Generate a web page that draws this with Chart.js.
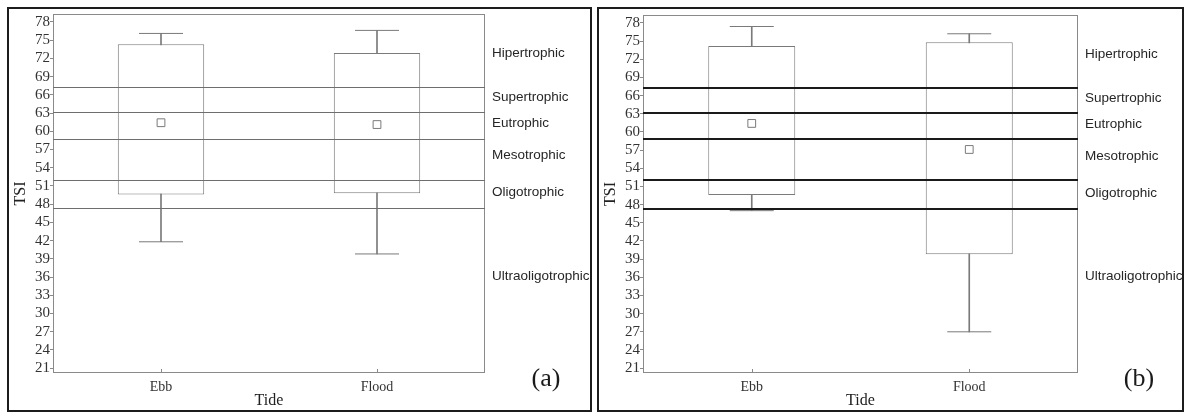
<!DOCTYPE html>
<html>
<head>
<meta charset="utf-8">
<script src="https://cdn.jsdelivr.net/npm/chart.js@4.4.1/dist/chart.umd.min.js"></script>
<style>
  body { margin: 0; background: #fff; }
  .panel { position: absolute; top: 7px; border: 2px solid #1c1c1c; background: #fff; }
  #panelA { left: 7px; width: 581px; height: 401px; }
  #panelB { left: 597px; width: 583px; height: 401px; }
  canvas { display: block; }
</style>
</head>
<body>
<div class="panel" id="panelA"><canvas id="chartA" width="581" height="401"></canvas></div>
<div class="panel" id="panelB"><canvas id="chartB" width="583" height="401"></canvas></div>
<script>
// boxplots du TSI par marée, (a) et (b)

const categories = ["Ebb", "Flood"];
const yTicks = [21, 24, 27, 30, 33, 36, 39, 42, 45, 48, 51, 54, 57, 60, 63, 66, 69, 72, 75, 78];

// panel (a)
const boxLowA = [49.6, 49.8];
const boxHighA = [74.3, 72.9];
const whiskerLowA = [41.8, 39.8];
const whiskerHighA = [76.1, 76.6];
const meanA = [61.4, 61.1];

// panel (b)
const boxLowB = [49.6, 39.8];
const boxHighB = [74.2, 74.8];
const whiskerLowB = [47.0, 27.0];
const whiskerHighB = [77.4, 76.2];
const meanB = [61.4, 57.1];

// classes trophiques
const trophicBounds = [47.3, 52.0, 58.8, 63.2, 67.3];
const trophicClasses = ["Hipertrophic", "Supertrophic", "Eutrophic", "Mesotrophic", "Oligotrophic", "Ultraoligotrophic"];
const trophicLabelAt = [72.8, 65.6, 61.3, 56.0, 49.9, 36.1];

const boxColor = "#7a7a7a";

const decorPlugin = {
  id: "decor",
  afterDatasetsDraw(chart, args, opts) {
    const { ctx, chartArea: a, scales } = chart;
    const y = scales.y, x = scales.x;
    ctx.save();
    // cadre du graphe
    ctx.strokeStyle = "#8a8a8a";
    ctx.lineWidth = 1;
    ctx.strokeRect(a.left + 0.5, a.top + 0.5, a.right - a.left - 1, a.bottom - a.top - 1);
    // petits ticks de l'axe x, vers l'intérieur
    categories.forEach((c, i) => {
      const px = Math.round(x.getPixelForValue(i)) + 0.5;
      ctx.beginPath();
      ctx.moveTo(px, a.bottom);
      ctx.lineTo(px, a.bottom - 4);
      ctx.stroke();
    });
    // limites des classes
    ctx.strokeStyle = opts.lineColor;
    ctx.lineWidth = opts.lineWidth;
    trophicBounds.forEach(v => {
      const py = Math.round(y.getPixelForValue(v)) + (opts.lineWidth % 2 ? 0.5 : 0);
      ctx.beginPath();
      ctx.moveTo(a.left, py);
      ctx.lineTo(a.right, py);
      ctx.stroke();
    });
    // noms des classes
    ctx.fillStyle = "#262626";
    ctx.font = "13.5px 'Liberation Sans', Arial, sans-serif";
    ctx.textAlign = "left";
    ctx.textBaseline = "middle";
    trophicClasses.forEach((t, i) => {
      ctx.fillText(t, a.right + 7, y.getPixelForValue(trophicLabelAt[i]));
    });
    // lettre du panneau
    ctx.fillStyle = "#1a1a1a";
    ctx.font = "26px 'Liberation Serif', 'Times New Roman', serif";
    ctx.textAlign = "center";
    ctx.fillText(opts.tag, a.right + 61, a.bottom + 6);
    ctx.restore();
  }
};

function boxChart(id, low, high, wLow, wHigh, mean, opts) {
  const ctx = document.getElementById(id).getContext("2d");
  return new Chart(ctx, {
    type: "bar",
    data: {
      labels: categories,
      datasets: [
        {
          label: "box",
          data: low.map((v, i) => [v, high[i]]),
          backgroundColor: "#ffffff",
          borderColor: boxColor,
          borderWidth: 1,
          borderSkipped: false,
          grouped: false,
          barPercentage: 0.4,
          categoryPercentage: 1,
          order: 1,
        },
        {
          label: "whisker",
          data: wLow.map((v, i) => [v, wHigh[i]]),
          backgroundColor: boxColor,
          borderWidth: 0,
          grouped: false,
          barThickness: 1,
          order: 2,
        },
        {
          type: "line",
          label: "cap high",
          data: wHigh,
          showLine: false,
          pointStyle: "line",
          pointRadius: 22,
          borderColor: boxColor,
          borderWidth: 1,
          order: 0,
        },
        {
          type: "line",
          label: "cap low",
          data: wLow,
          showLine: false,
          pointStyle: "line",
          pointRadius: 22,
          borderColor: boxColor,
          borderWidth: 1,
          order: 0,
        },
        {
          type: "line",
          label: "mean",
          data: mean,
          showLine: false,
          pointStyle: "rect",
          pointRadius: 5.5,
          backgroundColor: "#ffffff",
          borderColor: boxColor,
          borderWidth: 1,
          order: 0,
        },
      ],
    },
    options: {
      responsive: false,
      animation: false,
      layout: { autoPadding: false, padding: { top: opts.top, right: opts.right, left: 0, bottom: 0 } },
      plugins: {
        legend: { display: false },
        tooltip: { enabled: false },
        decor: { tag: opts.tag, lineColor: opts.lineColor, lineWidth: opts.lineWidth },
      },
      scales: {
        x: {
          offset: true,
          grid: { display: true, drawOnChartArea: false, drawTicks: false },
          border: { display: false },
          ticks: {
            padding: 6,
            color: "#333",
            font: { family: "'Liberation Serif', 'Times New Roman', serif", size: 14 },
          },
          title: {
            display: true,
            text: "Tide",
            color: "#222",
            padding: { top: 0, bottom: 0 },
            font: { family: "'Liberation Serif', 'Times New Roman', serif", size: 16 },
          },
          afterFit: (s) => { s.height = 37; s.paddingLeft = 0; s.paddingRight = 0; },
        },
        y: {
          min: 20.2,
          max: 79.3,
          afterBuildTicks: (s) => { s.ticks = yTicks.map(v => ({ value: v })); },
          grid: { drawOnChartArea: false, drawTicks: true, tickLength: 3, color: "#8a8a8a" },
          border: { display: false },
          ticks: {
            autoSkip: false,
            padding: 0,
            color: "#333",
            font: { family: "'Liberation Serif', 'Times New Roman', serif", size: 15 },
          },
          title: {
            display: true,
            text: "TSI",
            color: "#222",
            padding: { top: 2, bottom: 0 },
            font: { family: "'Liberation Serif', 'Times New Roman', serif", size: 16 },
          },
          afterFit: (s) => { s.width = 44; s.paddingTop = 0; s.paddingBottom = 0; },
        },
      },
    },
    plugins: [decorPlugin],
  });
}

boxChart("chartA", boxLowA, boxHighA, whiskerLowA, whiskerHighA, meanA,
  { tag: "(a)", lineColor: "#6e6e6e", lineWidth: 1, top: 5, right: 105 });
boxChart("chartB", boxLowB, boxHighB, whiskerLowB, whiskerHighB, meanB,
  { tag: "(b)", lineColor: "#1a1a1a", lineWidth: 2, top: 6, right: 104 });
</script>
</body>
</html>
